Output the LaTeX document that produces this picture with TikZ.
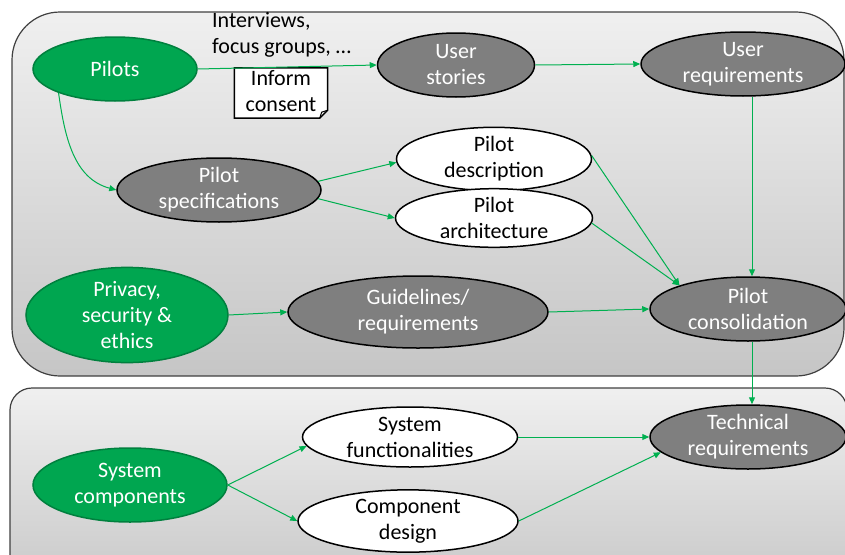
\documentclass[tikz,border=0pt]{standalone}
\usepackage{fontspec}
\setmainfont{Carlito}
\usetikzlibrary{shapes.geometric,arrows.meta}
\definecolor{pgreen}{HTML}{00A650}
\definecolor{dgreen}{HTML}{00803E}
\definecolor{pgray}{HTML}{7F7F7F}
\definecolor{agreen}{HTML}{00B050}
\definecolor{pborder}{HTML}{404040}
\newcommand{\dfs}{\fontsize{22}{26}\selectfont}
\tikzset{
  base/.style={ellipse, inner sep=0pt, align=center, font=\dfs, line width=1.5pt},
  gnode/.style={base, fill=pgreen, draw=dgreen, text=white},
  knode/.style={base, fill=pgray, draw=black, text=white},
  wnode/.style={base, fill=white, draw=black, text=black},
  sz/.style 2 args={minimum width=#1pt, minimum height=#2pt},
  arr/.style={draw=agreen, line width=1pt, -{Triangle[length=7pt,width=6pt]}},
  panel/.style={draw=pborder, line width=1.2pt, top color=gray!12, bottom color=gray!45},
  lbl/.style={font=\dfs, inner sep=0pt, align=left}
}
\begin{document}
\begin{tikzpicture}[x=1pt,y=-1pt]
\clip (0,0) rectangle (845,554);
% panels
\path[panel, rounded corners=48pt] (12,12) rectangle (844,376);
\path[panel, rounded corners=22pt] (10,388) rectangle (847,600);
% nodes
\node[gnode, sz={164}{64}] (pilots) at (115,69) {Pilots};
\node[knode, sz={157}{64}] (ustories) at (456,65) {User\\stories};
\node[knode, sz={204}{64}] (ureq) at (743,64) {User\\requirements};
\node[knode, sz={204}{64}] (pspec) at (219,190) {Pilot\\specifications};
\node[wnode, sz={195}{54}] (pdesc) at (494,159) {Pilot\\description};
\node[wnode, sz={197}{54}] (parch) at (494,218) {Pilot\\architecture};
\node[gnode, sz={202}{84}] (privacy) at (127,315) {Privacy,\\security \&\\ethics};
\node[knode, sz={260}{72}] (guid) at (418,312) {Guidelines/\\requirements};
\node[knode, sz={196}{64}] (pcons) at (748,309) {Pilot\\consolidation};
\node[knode, sz={196}{64}] (tech) at (748,437) {Technical\\requirements};
\node[wnode, sz={215}{60}] (sysfunc) at (410,437) {System\\functionalities};
\node[wnode, sz={220}{58}] (compdes) at (408,521) {Component\\design};
\node[gnode, sz={194}{74}] (syscomp) at (130,485) {System\\components};
% label and note
\node[lbl, anchor=west] (interviews) at (212,35) {Interviews,\\focus groups, …};
\node[inner sep=0pt, minimum width=93pt, minimum height=50pt] (inform) at (281,93) {};
\draw[line width=1.5pt, fill=white] (inform.north west) -- (inform.north east)
  -- ([yshift=8pt]inform.south east) -- ([xshift=-8pt]inform.south east)
  -- (inform.south west) -- cycle;
\draw[line width=1pt] ([yshift=8pt]inform.south east) -- ([xshift=-6pt,yshift=6pt]inform.south east) -- ([xshift=-8pt]inform.south east);
\node[lbl, align=center] (informtxt) at ([yshift=2pt]inform.center) {Inform\\consent};
% connectors
\draw[arr] (pilots.east) -- (ustories.west);
\draw[arr] (ustories.east) -- (ureq.west);
\draw[arr] (pilots.203) to[out=-82, in=165] (pspec.west);
\draw[arr] (pspec.5) -- (pdesc.182);
\draw[arr] (pspec.-5) -- (parch.west);
\draw[arr] (pdesc.2) -- (pcons.161);
\draw[arr] (parch.-3) -- (pcons.161);
\draw[arr] ([xshift=9pt]ureq.south) -- ([xshift=4pt]pcons.north);
\draw[arr] (privacy.east) -- (guid.west);
\draw[arr] (guid.east) -- (pcons.west);
\draw[arr] ([xshift=4pt]pcons.south) -- ([xshift=4pt]tech.north);
\draw[arr] (syscomp.east) -- (sysfunc.185);
\draw[arr] (syscomp.east) -- (compdes.west);
\draw[arr] (sysfunc.east) -- (tech.west);
\draw[arr] (compdes.east) -- (tech.190);
\end{tikzpicture}
\end{document}
